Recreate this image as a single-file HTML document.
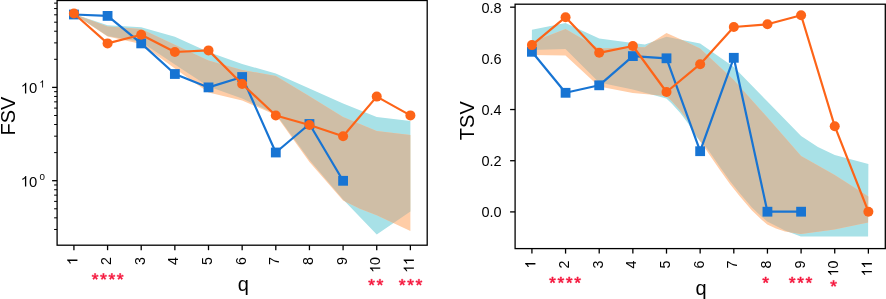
<!DOCTYPE html><html><head><meta charset="utf-8"><style>
html,body{margin:0;padding:0;background:#fff;}body{width:886px;height:299px;overflow:hidden;position:relative;}
svg{position:absolute;left:0;top:0;will-change:transform;}text{font-family:"Liberation Sans",sans-serif;fill:#000;}
.st{fill:#f5163c;font-size:21.5px;}
</style></head><body>
<svg width="886" height="299" viewBox="0 0 886 299">
<clipPath id="c57"><polygon points="73.92,14.00 107.57,25.30 141.21,27.30 174.86,36.80 208.50,52.00 242.15,64.00 275.80,73.50 309.44,88.40 343.09,103.50 376.73,117.00 410.38,121.00 410.38,211.40 376.73,234.50 343.09,199.60 309.44,160.00 275.80,114.00 242.15,98.50 208.50,86.50 174.86,64.50 141.21,42.00 107.57,36.00 73.92,14.00"/></clipPath>
<polygon points="73.92,14.00 107.57,25.30 141.21,27.30 174.86,36.80 208.50,52.00 242.15,64.00 275.80,73.50 309.44,88.40 343.09,103.50 376.73,117.00 410.38,121.00 410.38,211.40 376.73,234.50 343.09,199.60 309.44,160.00 275.80,114.00 242.15,98.50 208.50,86.50 174.86,64.50 141.21,42.00 107.57,36.00 73.92,14.00" fill="rgb(168,225,231)"/>
<polygon points="73.92,14.00 107.57,26.50 141.21,29.00 174.86,44.80 208.50,60.50 242.15,70.00 275.80,76.00 309.44,96.20 343.09,117.00 376.73,131.00 410.38,135.00 410.38,231.00 376.73,215.30 359.91,208.70 343.09,200.50 309.44,162.00 275.80,115.00 242.15,100.50 208.50,92.50 174.86,68.50 141.21,44.00 107.57,36.50 73.92,14.00" fill="rgb(255,205,167)"/>
<polygon points="73.92,14.00 107.57,26.50 141.21,29.00 174.86,44.80 208.50,60.50 242.15,70.00 275.80,76.00 309.44,96.20 343.09,117.00 376.73,131.00 410.38,135.00 410.38,231.00 376.73,215.30 359.91,208.70 343.09,200.50 309.44,162.00 275.80,115.00 242.15,100.50 208.50,92.50 174.86,68.50 141.21,44.00 107.57,36.50 73.92,14.00" fill="rgb(207,190,166)" clip-path="url(#c57)"/>
<polyline points="73.92,14.50 107.57,15.90 141.21,43.40 174.86,74.00 208.50,87.40 242.15,77.00 275.80,152.50 309.44,124.00 343.09,180.80" fill="none" stroke="#1774d3" stroke-width="2.2" stroke-linejoin="round"/>
<rect x="69.02" y="9.60" width="9.8" height="9.8" fill="#1774d3"/>
<rect x="102.67" y="11.00" width="9.8" height="9.8" fill="#1774d3"/>
<rect x="136.31" y="38.50" width="9.8" height="9.8" fill="#1774d3"/>
<rect x="169.96" y="69.10" width="9.8" height="9.8" fill="#1774d3"/>
<rect x="203.60" y="82.50" width="9.8" height="9.8" fill="#1774d3"/>
<rect x="237.25" y="72.10" width="9.8" height="9.8" fill="#1774d3"/>
<rect x="270.90" y="147.60" width="9.8" height="9.8" fill="#1774d3"/>
<rect x="304.54" y="119.10" width="9.8" height="9.8" fill="#1774d3"/>
<rect x="338.19" y="175.90" width="9.8" height="9.8" fill="#1774d3"/>
<polyline points="73.92,13.50 107.57,43.40 141.21,34.80 174.86,52.00 208.50,50.40 242.15,84.00 275.80,115.50 309.44,125.00 343.09,136.20 376.73,96.60 410.38,115.40" fill="none" stroke="#fd6418" stroke-width="2.2" stroke-linejoin="round"/>
<circle cx="73.92" cy="13.50" r="5" fill="#fd6418"/>
<circle cx="107.57" cy="43.40" r="5" fill="#fd6418"/>
<circle cx="141.21" cy="34.80" r="5" fill="#fd6418"/>
<circle cx="174.86" cy="52.00" r="5" fill="#fd6418"/>
<circle cx="208.50" cy="50.40" r="5" fill="#fd6418"/>
<circle cx="242.15" cy="84.00" r="5" fill="#fd6418"/>
<circle cx="275.80" cy="115.50" r="5" fill="#fd6418"/>
<circle cx="309.44" cy="125.00" r="5" fill="#fd6418"/>
<circle cx="343.09" cy="136.20" r="5" fill="#fd6418"/>
<circle cx="376.73" cy="96.60" r="5" fill="#fd6418"/>
<circle cx="410.38" cy="115.40" r="5" fill="#fd6418"/>
<rect x="57.10" y="0.50" width="370.10" height="244.70" fill="none" stroke="#000" stroke-width="1.3"/>
<line x1="73.92" y1="245.20" x2="73.92" y2="250.20" stroke="#000" stroke-width="1.3"/>
<line x1="107.57" y1="245.20" x2="107.57" y2="250.20" stroke="#000" stroke-width="1.3"/>
<line x1="141.21" y1="245.20" x2="141.21" y2="250.20" stroke="#000" stroke-width="1.3"/>
<line x1="174.86" y1="245.20" x2="174.86" y2="250.20" stroke="#000" stroke-width="1.3"/>
<line x1="208.50" y1="245.20" x2="208.50" y2="250.20" stroke="#000" stroke-width="1.3"/>
<line x1="242.15" y1="245.20" x2="242.15" y2="250.20" stroke="#000" stroke-width="1.3"/>
<line x1="275.80" y1="245.20" x2="275.80" y2="250.20" stroke="#000" stroke-width="1.3"/>
<line x1="309.44" y1="245.20" x2="309.44" y2="250.20" stroke="#000" stroke-width="1.3"/>
<line x1="343.09" y1="245.20" x2="343.09" y2="250.20" stroke="#000" stroke-width="1.3"/>
<line x1="376.73" y1="245.20" x2="376.73" y2="250.20" stroke="#000" stroke-width="1.3"/>
<line x1="410.38" y1="245.20" x2="410.38" y2="250.20" stroke="#000" stroke-width="1.3"/>
<line x1="52.10" y1="180.70" x2="57.10" y2="180.70" stroke="#000" stroke-width="1.3"/>
<line x1="52.10" y1="87.40" x2="57.10" y2="87.40" stroke="#000" stroke-width="1.3"/>
<line x1="54.10" y1="229.48" x2="57.10" y2="229.48" stroke="#000" stroke-width="1.0"/>
<line x1="54.10" y1="217.83" x2="57.10" y2="217.83" stroke="#000" stroke-width="1.0"/>
<line x1="54.10" y1="208.79" x2="57.10" y2="208.79" stroke="#000" stroke-width="1.0"/>
<line x1="54.10" y1="201.40" x2="57.10" y2="201.40" stroke="#000" stroke-width="1.0"/>
<line x1="54.10" y1="195.15" x2="57.10" y2="195.15" stroke="#000" stroke-width="1.0"/>
<line x1="54.10" y1="189.74" x2="57.10" y2="189.74" stroke="#000" stroke-width="1.0"/>
<line x1="54.10" y1="184.97" x2="57.10" y2="184.97" stroke="#000" stroke-width="1.0"/>
<line x1="54.10" y1="152.61" x2="57.10" y2="152.61" stroke="#000" stroke-width="1.0"/>
<line x1="54.10" y1="136.18" x2="57.10" y2="136.18" stroke="#000" stroke-width="1.0"/>
<line x1="54.10" y1="124.53" x2="57.10" y2="124.53" stroke="#000" stroke-width="1.0"/>
<line x1="54.10" y1="115.49" x2="57.10" y2="115.49" stroke="#000" stroke-width="1.0"/>
<line x1="54.10" y1="108.10" x2="57.10" y2="108.10" stroke="#000" stroke-width="1.0"/>
<line x1="54.10" y1="101.85" x2="57.10" y2="101.85" stroke="#000" stroke-width="1.0"/>
<line x1="54.10" y1="96.44" x2="57.10" y2="96.44" stroke="#000" stroke-width="1.0"/>
<line x1="54.10" y1="91.67" x2="57.10" y2="91.67" stroke="#000" stroke-width="1.0"/>
<line x1="54.10" y1="59.31" x2="57.10" y2="59.31" stroke="#000" stroke-width="1.0"/>
<line x1="54.10" y1="42.88" x2="57.10" y2="42.88" stroke="#000" stroke-width="1.0"/>
<line x1="54.10" y1="31.23" x2="57.10" y2="31.23" stroke="#000" stroke-width="1.0"/>
<line x1="54.10" y1="22.19" x2="57.10" y2="22.19" stroke="#000" stroke-width="1.0"/>
<line x1="54.10" y1="14.80" x2="57.10" y2="14.80" stroke="#000" stroke-width="1.0"/>
<line x1="54.10" y1="8.55" x2="57.10" y2="8.55" stroke="#000" stroke-width="1.0"/>
<line x1="54.10" y1="3.14" x2="57.10" y2="3.14" stroke="#000" stroke-width="1.0"/>
<g transform="translate(37.2,93.4)"><path d="M372.6 0H284.7V560Q252.9 529.8 201.4 499.5Q149.9 469.2 108.9 454.1V539.1Q182.6 573.7 237.8 623Q293 672.4 315.9 718.8H372.6Z" transform="translate(-16.458,0) scale(0.01480,-0.01480)"/><text x="-8.229" y="0" font-size="14.80px">0</text></g><g transform="translate(39.4,87.4)"><path d="M372.6 0H284.7V560Q252.9 529.8 201.4 499.5Q149.9 469.2 108.9 454.1V539.1Q182.6 573.7 237.8 623Q293 672.4 315.9 718.8H372.6Z" transform="translate(0.000,0) scale(0.00980,-0.00980)"/></g>
<g transform="translate(37.2,186.6)"><path d="M372.6 0H284.7V560Q252.9 529.8 201.4 499.5Q149.9 469.2 108.9 454.1V539.1Q182.6 573.7 237.8 623Q293 672.4 315.9 718.8H372.6Z" transform="translate(-16.458,0) scale(0.01480,-0.01480)"/><text x="-8.229" y="0" font-size="14.80px">0</text></g><g transform="translate(39.6,180.4)"><text x="0.000" y="0" font-size="9.80px">0</text></g>
<text transform="translate(15,116) rotate(-90)" font-size="20px" text-anchor="middle">FSV</text>
<text x="243.4" y="291.2" font-size="20px" text-anchor="middle">q</text>
<g transform="translate(77.42,257.00) rotate(-90)"><path d="M372.6 0H284.7V560Q252.9 529.8 201.4 499.5Q149.9 469.2 108.9 454.1V539.1Q182.6 573.7 237.8 623Q293 672.4 315.9 718.8H372.6Z" transform="translate(-7.951,0) scale(0.01430,-0.01430)"/></g>
<g transform="translate(111.07,257.00) rotate(-90)"><text x="-7.951" y="0" font-size="14.30px">2</text></g>
<g transform="translate(144.71,257.00) rotate(-90)"><text x="-7.951" y="0" font-size="14.30px">3</text></g>
<g transform="translate(178.36,257.00) rotate(-90)"><text x="-7.951" y="0" font-size="14.30px">4</text></g>
<g transform="translate(212.00,257.00) rotate(-90)"><text x="-7.951" y="0" font-size="14.30px">5</text></g>
<g transform="translate(245.65,257.00) rotate(-90)"><text x="-7.951" y="0" font-size="14.30px">6</text></g>
<g transform="translate(279.30,257.00) rotate(-90)"><text x="-7.951" y="0" font-size="14.30px">7</text></g>
<g transform="translate(312.94,257.00) rotate(-90)"><text x="-7.951" y="0" font-size="14.30px">8</text></g>
<g transform="translate(346.59,257.00) rotate(-90)"><text x="-7.951" y="0" font-size="14.30px">9</text></g>
<g transform="translate(380.23,257.00) rotate(-90)"><path d="M372.6 0H284.7V560Q252.9 529.8 201.4 499.5Q149.9 469.2 108.9 454.1V539.1Q182.6 573.7 237.8 623Q293 672.4 315.9 718.8H372.6Z" transform="translate(-15.902,0) scale(0.01430,-0.01430)"/><text x="-7.951" y="0" font-size="14.30px">0</text></g>
<g transform="translate(413.88,257.00) rotate(-90)"><path d="M372.6 0H284.7V560Q252.9 529.8 201.4 499.5Q149.9 469.2 108.9 454.1V539.1Q182.6 573.7 237.8 623Q293 672.4 315.9 718.8H372.6Z" transform="translate(-15.902,0) scale(0.01430,-0.01430)"/><path d="M372.6 0H284.7V560Q252.9 529.8 201.4 499.5Q149.9 469.2 108.9 454.1V539.1Q182.6 573.7 237.8 623Q293 672.4 315.9 718.8H372.6Z" transform="translate(-7.951,0) scale(0.01430,-0.01430)"/></g>
<path d="M45 1176L87 1305Q233 1253 299 1215Q281 1381 280 1443H412Q409 1353 392 1216Q486 1263 607 1305L649 1176Q533 1138 421 1125Q477 1076 579 950L470 873Q417 945 345 1069Q277 941 226 873L119 950Q224 1080 270 1125Q154 1147 45 1176Z" fill="#f5163c" stroke="#f5163c" stroke-width="45" stroke-linejoin="round" transform="translate(91.466,288.650) scale(0.010498,-0.010498)"/><path d="M45 1176L87 1305Q233 1253 299 1215Q281 1381 280 1443H412Q409 1353 392 1216Q486 1263 607 1305L649 1176Q533 1138 421 1125Q477 1076 579 950L470 873Q417 945 345 1069Q277 941 226 873L119 950Q224 1080 270 1125Q154 1147 45 1176Z" fill="#f5163c" stroke="#f5163c" stroke-width="45" stroke-linejoin="round" transform="translate(99.833,288.650) scale(0.010498,-0.010498)"/><path d="M45 1176L87 1305Q233 1253 299 1215Q281 1381 280 1443H412Q409 1353 392 1216Q486 1263 607 1305L649 1176Q533 1138 421 1125Q477 1076 579 950L470 873Q417 945 345 1069Q277 941 226 873L119 950Q224 1080 270 1125Q154 1147 45 1176Z" fill="#f5163c" stroke="#f5163c" stroke-width="45" stroke-linejoin="round" transform="translate(108.200,288.650) scale(0.010498,-0.010498)"/><path d="M45 1176L87 1305Q233 1253 299 1215Q281 1381 280 1443H412Q409 1353 392 1216Q486 1263 607 1305L649 1176Q533 1138 421 1125Q477 1076 579 950L470 873Q417 945 345 1069Q277 941 226 873L119 950Q224 1080 270 1125Q154 1147 45 1176Z" fill="#f5163c" stroke="#f5163c" stroke-width="45" stroke-linejoin="round" transform="translate(116.567,288.650) scale(0.010498,-0.010498)"/>
<path d="M45 1176L87 1305Q233 1253 299 1215Q281 1381 280 1443H412Q409 1353 392 1216Q486 1263 607 1305L649 1176Q533 1138 421 1125Q477 1076 579 950L470 873Q417 945 345 1069Q277 941 226 873L119 950Q224 1080 270 1125Q154 1147 45 1176Z" fill="#f5163c" stroke="#f5163c" stroke-width="45" stroke-linejoin="round" transform="translate(367.933,294.400) scale(0.010498,-0.010498)"/><path d="M45 1176L87 1305Q233 1253 299 1215Q281 1381 280 1443H412Q409 1353 392 1216Q486 1263 607 1305L649 1176Q533 1138 421 1125Q477 1076 579 950L470 873Q417 945 345 1069Q277 941 226 873L119 950Q224 1080 270 1125Q154 1147 45 1176Z" fill="#f5163c" stroke="#f5163c" stroke-width="45" stroke-linejoin="round" transform="translate(376.300,294.400) scale(0.010498,-0.010498)"/>
<path d="M45 1176L87 1305Q233 1253 299 1215Q281 1381 280 1443H412Q409 1353 392 1216Q486 1263 607 1305L649 1176Q533 1138 421 1125Q477 1076 579 950L470 873Q417 945 345 1069Q277 941 226 873L119 950Q224 1080 270 1125Q154 1147 45 1176Z" fill="#f5163c" stroke="#f5163c" stroke-width="45" stroke-linejoin="round" transform="translate(398.550,294.400) scale(0.010498,-0.010498)"/><path d="M45 1176L87 1305Q233 1253 299 1215Q281 1381 280 1443H412Q409 1353 392 1216Q486 1263 607 1305L649 1176Q533 1138 421 1125Q477 1076 579 950L470 873Q417 945 345 1069Q277 941 226 873L119 950Q224 1080 270 1125Q154 1147 45 1176Z" fill="#f5163c" stroke="#f5163c" stroke-width="45" stroke-linejoin="round" transform="translate(406.917,294.400) scale(0.010498,-0.010498)"/><path d="M45 1176L87 1305Q233 1253 299 1215Q281 1381 280 1443H412Q409 1353 392 1216Q486 1263 607 1305L649 1176Q533 1138 421 1125Q477 1076 579 950L470 873Q417 945 345 1069Q277 941 226 873L119 950Q224 1080 270 1125Q154 1147 45 1176Z" fill="#f5163c" stroke="#f5163c" stroke-width="45" stroke-linejoin="round" transform="translate(415.283,294.400) scale(0.010498,-0.010498)"/>
<clipPath id="c515"><polygon points="531.92,29.70 565.57,23.00 599.21,38.50 632.86,43.00 644.96,44.50 666.50,36.70 679.96,39.50 700.15,43.40 733.80,67.00 767.44,101.50 801.09,136.00 817.91,147.00 834.73,155.00 868.38,163.90 868.10,236.50 834.41,236.50 800.82,236.50 784.93,230.50 767.23,221.50 761.93,217.00 751.94,207.50 739.94,193.50 729.94,181.00 719.94,167.00 709.95,152.50 705.95,147.00 699.95,141.00 695.05,135.50 688.35,123.80 680.06,112.80 671.66,103.50 666.36,98.50 632.77,89.50 599.08,82.50 565.49,49.00 531.79,50.00"/></clipPath>
<polygon points="531.92,29.70 565.57,23.00 599.21,38.50 632.86,43.00 644.96,44.50 666.50,36.70 679.96,39.50 700.15,43.40 733.80,67.00 767.44,101.50 801.09,136.00 817.91,147.00 834.73,155.00 868.38,163.90 868.10,236.50 834.41,236.50 800.82,236.50 784.93,230.50 767.23,221.50 761.93,217.00 751.94,207.50 739.94,193.50 729.94,181.00 719.94,167.00 709.95,152.50 705.95,147.00 699.95,141.00 695.05,135.50 688.35,123.80 680.06,112.80 671.66,103.50 666.36,98.50 632.77,89.50 599.08,82.50 565.49,49.00 531.79,50.00" fill="rgb(168,225,231)"/>
<polygon points="531.92,42.00 565.57,29.00 599.21,48.50 632.86,47.00 644.96,47.20 649.96,43.50 666.50,33.00 679.96,39.00 700.15,48.40 733.80,80.00 767.44,117.50 801.09,156.00 834.73,175.00 868.38,196.60 868.10,222.40 834.41,229.40 800.82,234.00 784.93,231.40 775.93,228.50 767.23,224.50 761.93,220.00 751.94,210.50 739.94,196.50 729.94,184.00 719.94,170.00 709.95,155.50 705.95,149.50 699.95,141.00 695.05,133.50 688.35,121.30 680.06,110.30 671.66,101.00 666.36,96.00 632.77,93.00 599.08,86.50 565.49,55.50 531.79,55.00" fill="rgb(255,205,167)"/>
<polygon points="531.92,42.00 565.57,29.00 599.21,48.50 632.86,47.00 644.96,47.20 649.96,43.50 666.50,33.00 679.96,39.00 700.15,48.40 733.80,80.00 767.44,117.50 801.09,156.00 834.73,175.00 868.38,196.60 868.10,222.40 834.41,229.40 800.82,234.00 784.93,231.40 775.93,228.50 767.23,224.50 761.93,220.00 751.94,210.50 739.94,196.50 729.94,184.00 719.94,170.00 709.95,155.50 705.95,149.50 699.95,141.00 695.05,133.50 688.35,121.30 680.06,110.30 671.66,101.00 666.36,96.00 632.77,93.00 599.08,86.50 565.49,55.50 531.79,55.00" fill="rgb(207,190,166)" clip-path="url(#c515)"/>
<polyline points="531.92,51.80 565.57,92.80 599.21,85.30 632.86,56.10 666.50,58.30 700.15,151.20 733.80,57.80 767.44,211.70 801.09,211.70" fill="none" stroke="#1774d3" stroke-width="2.2" stroke-linejoin="round"/>
<rect x="527.02" y="46.90" width="9.8" height="9.8" fill="#1774d3"/>
<rect x="560.67" y="87.90" width="9.8" height="9.8" fill="#1774d3"/>
<rect x="594.31" y="80.40" width="9.8" height="9.8" fill="#1774d3"/>
<rect x="627.96" y="51.20" width="9.8" height="9.8" fill="#1774d3"/>
<rect x="661.60" y="53.40" width="9.8" height="9.8" fill="#1774d3"/>
<rect x="695.25" y="146.30" width="9.8" height="9.8" fill="#1774d3"/>
<rect x="728.90" y="52.90" width="9.8" height="9.8" fill="#1774d3"/>
<rect x="762.54" y="206.80" width="9.8" height="9.8" fill="#1774d3"/>
<rect x="796.19" y="206.80" width="9.8" height="9.8" fill="#1774d3"/>
<polyline points="531.92,45.10 565.57,17.20 599.21,52.80 632.86,46.00 666.50,92.00 700.15,64.20 733.80,27.00 767.44,24.30 801.09,15.20 834.73,126.20 868.38,211.70" fill="none" stroke="#fd6418" stroke-width="2.2" stroke-linejoin="round"/>
<circle cx="531.92" cy="45.10" r="5" fill="#fd6418"/>
<circle cx="565.57" cy="17.20" r="5" fill="#fd6418"/>
<circle cx="599.21" cy="52.80" r="5" fill="#fd6418"/>
<circle cx="632.86" cy="46.00" r="5" fill="#fd6418"/>
<circle cx="666.50" cy="92.00" r="5" fill="#fd6418"/>
<circle cx="700.15" cy="64.20" r="5" fill="#fd6418"/>
<circle cx="733.80" cy="27.00" r="5" fill="#fd6418"/>
<circle cx="767.44" cy="24.30" r="5" fill="#fd6418"/>
<circle cx="801.09" cy="15.20" r="5" fill="#fd6418"/>
<circle cx="834.73" cy="126.20" r="5" fill="#fd6418"/>
<circle cx="868.38" cy="211.70" r="5" fill="#fd6418"/>
<rect x="515.10" y="4.20" width="370.20" height="244.40" fill="none" stroke="#000" stroke-width="1.3"/>
<line x1="531.92" y1="248.60" x2="531.92" y2="253.60" stroke="#000" stroke-width="1.3"/>
<line x1="565.57" y1="248.60" x2="565.57" y2="253.60" stroke="#000" stroke-width="1.3"/>
<line x1="599.21" y1="248.60" x2="599.21" y2="253.60" stroke="#000" stroke-width="1.3"/>
<line x1="632.86" y1="248.60" x2="632.86" y2="253.60" stroke="#000" stroke-width="1.3"/>
<line x1="666.50" y1="248.60" x2="666.50" y2="253.60" stroke="#000" stroke-width="1.3"/>
<line x1="700.15" y1="248.60" x2="700.15" y2="253.60" stroke="#000" stroke-width="1.3"/>
<line x1="733.80" y1="248.60" x2="733.80" y2="253.60" stroke="#000" stroke-width="1.3"/>
<line x1="767.44" y1="248.60" x2="767.44" y2="253.60" stroke="#000" stroke-width="1.3"/>
<line x1="801.09" y1="248.60" x2="801.09" y2="253.60" stroke="#000" stroke-width="1.3"/>
<line x1="834.73" y1="248.60" x2="834.73" y2="253.60" stroke="#000" stroke-width="1.3"/>
<line x1="868.38" y1="248.60" x2="868.38" y2="253.60" stroke="#000" stroke-width="1.3"/>
<line x1="510.10" y1="211.90" x2="515.10" y2="211.90" stroke="#000" stroke-width="1.3"/>
<text x="501.6" y="217.40" font-size="14.5px" text-anchor="end">0.0</text>
<line x1="510.10" y1="160.72" x2="515.10" y2="160.72" stroke="#000" stroke-width="1.3"/>
<text x="501.6" y="166.22" font-size="14.5px" text-anchor="end">0.2</text>
<line x1="510.10" y1="109.54" x2="515.10" y2="109.54" stroke="#000" stroke-width="1.3"/>
<text x="501.6" y="115.04" font-size="14.5px" text-anchor="end">0.4</text>
<text x="501.6" y="63.86" font-size="14.5px" text-anchor="end">0.6</text>
<line x1="510.10" y1="7.18" x2="515.10" y2="7.18" stroke="#000" stroke-width="1.3"/>
<text x="501.6" y="12.68" font-size="14.5px" text-anchor="end">0.8</text>
<text transform="translate(473.5,120.7) rotate(-90)" font-size="20px" text-anchor="middle">TSV</text>
<text x="701" y="295" font-size="20px" text-anchor="middle">q</text>
<g transform="translate(535.42,260.50) rotate(-90)"><path d="M372.6 0H284.7V560Q252.9 529.8 201.4 499.5Q149.9 469.2 108.9 454.1V539.1Q182.6 573.7 237.8 623Q293 672.4 315.9 718.8H372.6Z" transform="translate(-7.951,0) scale(0.01430,-0.01430)"/></g>
<g transform="translate(569.07,260.50) rotate(-90)"><text x="-7.951" y="0" font-size="14.30px">2</text></g>
<g transform="translate(602.71,260.50) rotate(-90)"><text x="-7.951" y="0" font-size="14.30px">3</text></g>
<g transform="translate(636.36,260.50) rotate(-90)"><text x="-7.951" y="0" font-size="14.30px">4</text></g>
<g transform="translate(670.00,260.50) rotate(-90)"><text x="-7.951" y="0" font-size="14.30px">5</text></g>
<g transform="translate(703.65,260.50) rotate(-90)"><text x="-7.951" y="0" font-size="14.30px">6</text></g>
<g transform="translate(737.30,260.50) rotate(-90)"><text x="-7.951" y="0" font-size="14.30px">7</text></g>
<g transform="translate(770.94,260.50) rotate(-90)"><text x="-7.951" y="0" font-size="14.30px">8</text></g>
<g transform="translate(804.59,260.50) rotate(-90)"><text x="-7.951" y="0" font-size="14.30px">9</text></g>
<g transform="translate(838.23,260.50) rotate(-90)"><path d="M372.6 0H284.7V560Q252.9 529.8 201.4 499.5Q149.9 469.2 108.9 454.1V539.1Q182.6 573.7 237.8 623Q293 672.4 315.9 718.8H372.6Z" transform="translate(-15.902,0) scale(0.01430,-0.01430)"/><text x="-7.951" y="0" font-size="14.30px">0</text></g>
<g transform="translate(871.88,260.50) rotate(-90)"><path d="M372.6 0H284.7V560Q252.9 529.8 201.4 499.5Q149.9 469.2 108.9 454.1V539.1Q182.6 573.7 237.8 623Q293 672.4 315.9 718.8H372.6Z" transform="translate(-15.902,0) scale(0.01430,-0.01430)"/><path d="M372.6 0H284.7V560Q252.9 529.8 201.4 499.5Q149.9 469.2 108.9 454.1V539.1Q182.6 573.7 237.8 623Q293 672.4 315.9 718.8H372.6Z" transform="translate(-7.951,0) scale(0.01430,-0.01430)"/></g>
<path d="M45 1176L87 1305Q233 1253 299 1215Q281 1381 280 1443H412Q409 1353 392 1216Q486 1263 607 1305L649 1176Q533 1138 421 1125Q477 1076 579 950L470 873Q417 945 345 1069Q277 941 226 873L119 950Q224 1080 270 1125Q154 1147 45 1176Z" fill="#f5163c" stroke="#f5163c" stroke-width="45" stroke-linejoin="round" transform="translate(548.866,292.100) scale(0.010498,-0.010498)"/><path d="M45 1176L87 1305Q233 1253 299 1215Q281 1381 280 1443H412Q409 1353 392 1216Q486 1263 607 1305L649 1176Q533 1138 421 1125Q477 1076 579 950L470 873Q417 945 345 1069Q277 941 226 873L119 950Q224 1080 270 1125Q154 1147 45 1176Z" fill="#f5163c" stroke="#f5163c" stroke-width="45" stroke-linejoin="round" transform="translate(557.233,292.100) scale(0.010498,-0.010498)"/><path d="M45 1176L87 1305Q233 1253 299 1215Q281 1381 280 1443H412Q409 1353 392 1216Q486 1263 607 1305L649 1176Q533 1138 421 1125Q477 1076 579 950L470 873Q417 945 345 1069Q277 941 226 873L119 950Q224 1080 270 1125Q154 1147 45 1176Z" fill="#f5163c" stroke="#f5163c" stroke-width="45" stroke-linejoin="round" transform="translate(565.600,292.100) scale(0.010498,-0.010498)"/><path d="M45 1176L87 1305Q233 1253 299 1215Q281 1381 280 1443H412Q409 1353 392 1216Q486 1263 607 1305L649 1176Q533 1138 421 1125Q477 1076 579 950L470 873Q417 945 345 1069Q277 941 226 873L119 950Q224 1080 270 1125Q154 1147 45 1176Z" fill="#f5163c" stroke="#f5163c" stroke-width="45" stroke-linejoin="round" transform="translate(573.967,292.100) scale(0.010498,-0.010498)"/>
<path d="M45 1176L87 1305Q233 1253 299 1215Q281 1381 280 1443H412Q409 1353 392 1216Q486 1263 607 1305L649 1176Q533 1138 421 1125Q477 1076 579 950L470 873Q417 945 345 1069Q277 941 226 873L119 950Q224 1080 270 1125Q154 1147 45 1176Z" fill="#f5163c" stroke="#f5163c" stroke-width="45" stroke-linejoin="round" transform="translate(762.017,292.100) scale(0.010498,-0.010498)"/>
<path d="M45 1176L87 1305Q233 1253 299 1215Q281 1381 280 1443H412Q409 1353 392 1216Q486 1263 607 1305L649 1176Q533 1138 421 1125Q477 1076 579 950L470 873Q417 945 345 1069Q277 941 226 873L119 950Q224 1080 270 1125Q154 1147 45 1176Z" fill="#f5163c" stroke="#f5163c" stroke-width="45" stroke-linejoin="round" transform="translate(788.550,292.100) scale(0.010498,-0.010498)"/><path d="M45 1176L87 1305Q233 1253 299 1215Q281 1381 280 1443H412Q409 1353 392 1216Q486 1263 607 1305L649 1176Q533 1138 421 1125Q477 1076 579 950L470 873Q417 945 345 1069Q277 941 226 873L119 950Q224 1080 270 1125Q154 1147 45 1176Z" fill="#f5163c" stroke="#f5163c" stroke-width="45" stroke-linejoin="round" transform="translate(796.917,292.100) scale(0.010498,-0.010498)"/><path d="M45 1176L87 1305Q233 1253 299 1215Q281 1381 280 1443H412Q409 1353 392 1216Q486 1263 607 1305L649 1176Q533 1138 421 1125Q477 1076 579 950L470 873Q417 945 345 1069Q277 941 226 873L119 950Q224 1080 270 1125Q154 1147 45 1176Z" fill="#f5163c" stroke="#f5163c" stroke-width="45" stroke-linejoin="round" transform="translate(805.283,292.100) scale(0.010498,-0.010498)"/>
<path d="M45 1176L87 1305Q233 1253 299 1215Q281 1381 280 1443H412Q409 1353 392 1216Q486 1263 607 1305L649 1176Q533 1138 421 1125Q477 1076 579 950L470 873Q417 945 345 1069Q277 941 226 873L119 950Q224 1080 270 1125Q154 1147 45 1176Z" fill="#f5163c" stroke="#f5163c" stroke-width="45" stroke-linejoin="round" transform="translate(829.917,295.600) scale(0.010498,-0.010498)"/>
</svg></body></html>
